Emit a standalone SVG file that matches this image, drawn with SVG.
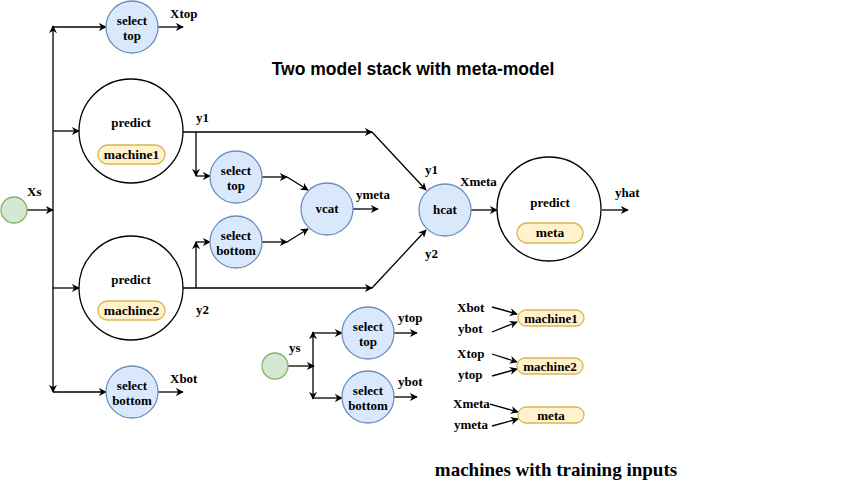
<svg xmlns="http://www.w3.org/2000/svg" width="850" height="481" viewBox="0 0 850 481">
<style>
.b{fill:#dae8fc;stroke:#6c8ebf;stroke-width:1.3}
.g{fill:#d5e8d4;stroke:#82b366;stroke-width:1.3}
.p{fill:#fff2cc;stroke:#d6b656;stroke-width:1.3}
.w{fill:#ffffff;stroke:#000;stroke-width:1.3}
.t{font-family:"Liberation Serif","Times New Roman",serif;font-weight:bold;font-size:13px;fill:#000}
.m{font-size:13.5px}
.c{text-anchor:middle}
.e{fill:none;stroke:#000;stroke-width:1.3;marker-end:url(#a)}
</style>
<defs>
<marker id="a" viewBox="0 0 10 10" refX="9" refY="5" markerWidth="8" markerHeight="8" markerUnits="userSpaceOnUse" orient="auto">
<path d="M0,0 L10,5 L0,10 L3,5 z" fill="#000"/>
</marker>
</defs>
<g id="connectors">
<path class="e" d="M27,210 L53,210"/>
<path class="e" d="M53,210 L53,26"/>
<path class="e" d="M53,210 L53,392"/>
<path class="e" d="M53,27 L106,27"/>
<path class="e" d="M53,131 L79,131"/>
<path class="e" d="M53,288 L79,288"/>
<path class="e" d="M53,392 L106,392"/>
<path class="e" d="M158,27 L183,27"/>
<path class="e" d="M158,392 L183,392"/>
<path class="e" d="M183,132 L372,132"/>
<path class="e" d="M372,132 L426,190"/>
<path class="e" d="M183,288 L372,288"/>
<path class="e" d="M372,288 L426,230"/>
<path class="e" d="M196,132 L196,176"/>
<path class="e" d="M196,176 L210,176"/>
<path class="e" d="M196,288 L196,242"/>
<path class="e" d="M196,242 L210,242"/>
<path class="e" d="M262,177 L287,177"/>
<path class="e" d="M287,177 L308,190"/>
<path class="e" d="M262,242 L287,242"/>
<path class="e" d="M287,242 L308,229"/>
<path class="e" d="M353,209 L378,209"/>
<path class="e" d="M471,210 L497,210"/>
<path class="e" d="M602,210 L628,210"/>
<path class="e" d="M288,366 L314,366"/>
<path class="e" d="M313,366 L313,332"/>
<path class="e" d="M313,366 L313,399"/>
<path class="e" d="M313,333 L342,333"/>
<path class="e" d="M313,398 L342,398"/>
<path class="e" d="M394,333 L417,333"/>
<path class="e" d="M394,397 L417,397"/>
<path class="e" d="M492,307 L517,314"/>
<path class="e" d="M492,332 L517,322"/>
<path class="e" d="M492,354 L517,362"/>
<path class="e" d="M492,376 L517,369"/>
<path class="e" d="M490,404 L518,412"/>
<path class="e" d="M492,426 L518,419"/>
</g>
<g id="xs"><circle class="g" cx="14" cy="210" r="13"/></g>
<g id="selecttop1"><circle class="b" cx="132" cy="27" r="26"/><text class="t c" x="132" y="25">select</text><text class="t c" x="132" y="40">top</text></g>
<g id="predict1"><circle class="w" cx="131" cy="131" r="52"/><text class="t c" x="131" y="127">predict</text><rect class="p" x="98" y="145" width="67" height="19" rx="9.5"/><text class="t m c" x="131.5" y="159">machine1</text></g>
<g id="predict2"><circle class="w" cx="131" cy="288" r="52"/><text class="t c" x="131" y="284">predict</text><rect class="p" x="98" y="301" width="67" height="19" rx="9.5"/><text class="t m c" x="131.5" y="315">machine2</text></g>
<g id="selectbottom1"><circle class="b" cx="132" cy="392" r="26"/><text class="t c" x="132" y="390">select</text><text class="t c" x="132" y="405">bottom</text></g>
<g id="selecttop2"><circle class="b" cx="236" cy="177" r="26"/><text class="t c" x="236" y="175">select</text><text class="t c" x="236" y="190">top</text></g>
<g id="selectbottom2"><circle class="b" cx="236" cy="242" r="26"/><text class="t c" x="236" y="240">select</text><text class="t c" x="236" y="255">bottom</text></g>
<g id="vcat"><circle class="b" cx="327" cy="209" r="26"/><text class="t c" x="327" y="213">vcat</text></g>
<g id="hcat"><circle class="b" cx="445" cy="210" r="26"/><text class="t c" x="445" y="214">hcat</text></g>
<g id="predictmeta"><circle class="w" cx="549" cy="209" r="52"/><text class="t c" x="550" y="207">predict</text><rect class="p" x="517" y="223" width="66" height="20" rx="10"/><text class="t m c" x="550" y="237">meta</text></g>
<g id="ys"><circle class="g" cx="275" cy="366" r="13"/></g>
<g id="selecttop3"><circle class="b" cx="368" cy="333" r="26"/><text class="t c" x="368" y="331">select</text><text class="t c" x="368" y="346">top</text></g>
<g id="selectbottom3"><circle class="b" cx="368" cy="397" r="26"/><text class="t c" x="368" y="395">select</text><text class="t c" x="368" y="410">bottom</text></g>
<g id="legend-machine1"><rect class="p" x="518" y="310" width="66" height="16" rx="8"/><text class="t c" x="551" y="322.5">machine1</text></g>
<g id="legend-machine2"><rect class="p" x="517" y="358" width="66" height="16" rx="8"/><text class="t c" x="550" y="370.5">machine2</text></g>
<g id="legend-meta"><rect class="p" x="518" y="407" width="66" height="16" rx="8"/><text class="t c" x="551" y="419.5">meta</text></g>
<g id="labels">
<text class="t" x="27" y="196">Xs</text>
<text class="t" x="170" y="18">Xtop</text>
<text class="t" x="196" y="122">y1</text>
<text class="t" x="196" y="314">y2</text>
<text class="t" x="170" y="383">Xbot</text>
<text class="t" x="356" y="199">ymeta</text>
<text class="t" x="425" y="174">y1</text>
<text class="t" x="425" y="258">y2</text>
<text class="t" x="460" y="186">Xmeta</text>
<text class="t" x="615" y="197">yhat</text>
<text class="t" x="289" y="352">ys</text>
<text class="t" x="398" y="322">ytop</text>
<text class="t" x="398" y="386">ybot</text>
<text class="t" x="457" y="312">Xbot</text>
<text class="t" x="458" y="333">ybot</text>
<text class="t" x="457" y="358">Xtop</text>
<text class="t" x="458" y="379">ytop</text>
<text class="t" x="453" y="408">Xmeta</text>
<text class="t" x="454" y="429">ymeta</text>
<text x="413" y="75" text-anchor="middle" style="font-family:'Liberation Sans',Arial,sans-serif;font-weight:bold;font-size:17.5px">Two model stack with meta-model</text>
<text x="556" y="476" text-anchor="middle" style="font-family:'Liberation Serif','Times New Roman',serif;font-weight:bold;font-size:19px">machines with training inputs</text>
</g>
</svg>
